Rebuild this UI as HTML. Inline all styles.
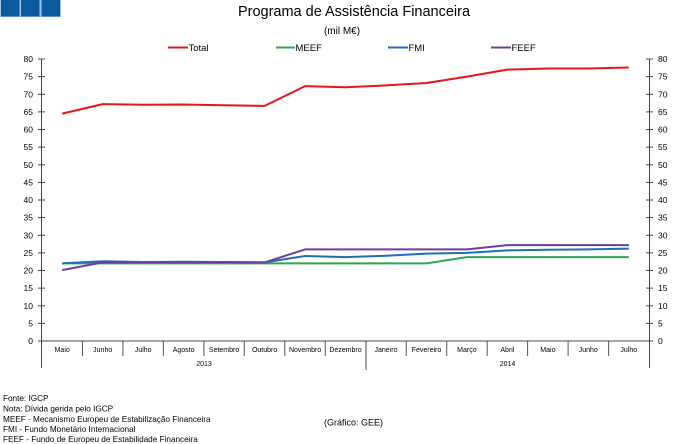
<!DOCTYPE html>
<html><head><meta charset="utf-8"><style>
html,body{margin:0;padding:0;background:#fff;}
svg{display:block;font-family:"Liberation Sans",Arial,sans-serif;}
</style></head><body>
<svg width="683" height="444" viewBox="0 0 683 444" xmlns="http://www.w3.org/2000/svg">
<rect x="0" y="0" width="683" height="444" fill="#fff"/>
<!-- logo -->
<rect x="0" y="0" width="61" height="17" fill="#9cc7ea"/>
<rect x="1" y="0" width="18.5" height="16.5" fill="#0b5a9f"/>
<rect x="21" y="0" width="18.5" height="16.5" fill="#0b5a9f"/>
<rect x="41.5" y="0" width="18.5" height="16.5" fill="#0b5a9f"/>
<!-- title -->
<text x="354" y="16" font-size="14.5" text-anchor="middle" fill="#000">Programa de Assistência Financeira</text>
<text x="342" y="34" font-size="10" text-anchor="middle" fill="#000">(mil M€)</text>
<!-- legend -->
<g font-size="9.5" fill="#000">
<line x1="168" y1="47.5" x2="188" y2="47.5" stroke="#e2161b" stroke-width="2"/>
<text x="188.5" y="51">Total</text>
<line x1="276" y1="47.5" x2="295" y2="47.5" stroke="#2ea84f" stroke-width="2"/>
<text x="295.5" y="51">MEEF</text>
<line x1="388" y1="47.5" x2="408" y2="47.5" stroke="#1f6db5" stroke-width="2"/>
<text x="408.5" y="51">FMI</text>
<line x1="491" y1="47.5" x2="511" y2="47.5" stroke="#6f3fa0" stroke-width="2"/>
<text x="511.5" y="51">FEEF</text>
</g>
<!-- axes -->
<g stroke="#444" stroke-width="1">
<line x1="41.5" y1="58.5" x2="41.5" y2="368"/>
<line x1="649.5" y1="58.5" x2="649.5" y2="368"/>
<line x1="41.5" y1="341" x2="649.5" y2="341"/>
<line x1="366" y1="341" x2="366" y2="370"/>
</g>
<g stroke="#444" stroke-width="1" id="ticks">
<line x1="38" y1="59" x2="45" y2="59"/><line x1="646" y1="59" x2="653" y2="59"/>
<line x1="38" y1="76.6" x2="45" y2="76.6"/><line x1="646" y1="76.6" x2="653" y2="76.6"/>
<line x1="38" y1="94.3" x2="45" y2="94.3"/><line x1="646" y1="94.3" x2="653" y2="94.3"/>
<line x1="38" y1="111.9" x2="45" y2="111.9"/><line x1="646" y1="111.9" x2="653" y2="111.9"/>
<line x1="38" y1="129.5" x2="45" y2="129.5"/><line x1="646" y1="129.5" x2="653" y2="129.5"/>
<line x1="38" y1="147.1" x2="45" y2="147.1"/><line x1="646" y1="147.1" x2="653" y2="147.1"/>
<line x1="38" y1="164.8" x2="45" y2="164.8"/><line x1="646" y1="164.8" x2="653" y2="164.8"/>
<line x1="38" y1="182.4" x2="45" y2="182.4"/><line x1="646" y1="182.4" x2="653" y2="182.4"/>
<line x1="38" y1="200" x2="45" y2="200"/><line x1="646" y1="200" x2="653" y2="200"/>
<line x1="38" y1="217.6" x2="45" y2="217.6"/><line x1="646" y1="217.6" x2="653" y2="217.6"/>
<line x1="38" y1="235.3" x2="45" y2="235.3"/><line x1="646" y1="235.3" x2="653" y2="235.3"/>
<line x1="38" y1="252.9" x2="45" y2="252.9"/><line x1="646" y1="252.9" x2="653" y2="252.9"/>
<line x1="38" y1="270.5" x2="45" y2="270.5"/><line x1="646" y1="270.5" x2="653" y2="270.5"/>
<line x1="38" y1="288.1" x2="45" y2="288.1"/><line x1="646" y1="288.1" x2="653" y2="288.1"/>
<line x1="38" y1="305.8" x2="45" y2="305.8"/><line x1="646" y1="305.8" x2="653" y2="305.8"/>
<line x1="38" y1="323.4" x2="45" y2="323.4"/><line x1="646" y1="323.4" x2="653" y2="323.4"/>
<line x1="38" y1="341" x2="45" y2="341"/><line x1="646" y1="341" x2="653" y2="341"/>
</g>
<g font-size="8.5" fill="#000" text-anchor="end">
<text x="33" y="62">80</text><text x="33" y="79.6">75</text><text x="33" y="97.3">70</text><text x="33" y="114.9">65</text>
<text x="33" y="132.5">60</text><text x="33" y="150.1">55</text><text x="33" y="167.8">50</text><text x="33" y="185.4">45</text>
<text x="33" y="203">40</text><text x="33" y="220.6">35</text><text x="33" y="238.3">30</text><text x="33" y="255.9">25</text>
<text x="33" y="273.5">20</text><text x="33" y="291.1">15</text><text x="33" y="308.8">10</text><text x="33" y="326.4">5</text>
<text x="33" y="344">0</text>
</g>
<g font-size="8.5" fill="#000" text-anchor="start">
<text x="658" y="62">80</text><text x="658" y="79.6">75</text><text x="658" y="97.3">70</text><text x="658" y="114.9">65</text>
<text x="658" y="132.5">60</text><text x="658" y="150.1">55</text><text x="658" y="167.8">50</text><text x="658" y="185.4">45</text>
<text x="658" y="203">40</text><text x="658" y="220.6">35</text><text x="658" y="238.3">30</text><text x="658" y="255.9">25</text>
<text x="658" y="273.5">20</text><text x="658" y="291.1">15</text><text x="658" y="308.8">10</text><text x="658" y="326.4">5</text>
<text x="658" y="344">0</text>
</g>
<!-- category separators -->
<g stroke="#555" stroke-width="1">
<line x1="82.5" y1="341" x2="82.5" y2="356"/>
<line x1="122.9" y1="341" x2="122.9" y2="356"/>
<line x1="163.4" y1="341" x2="163.4" y2="356"/>
<line x1="203.9" y1="341" x2="203.9" y2="356"/>
<line x1="244.3" y1="341" x2="244.3" y2="356"/>
<line x1="284.8" y1="341" x2="284.8" y2="356"/>
<line x1="325.3" y1="341" x2="325.3" y2="356"/>
<line x1="406.2" y1="341" x2="406.2" y2="356"/>
<line x1="446.7" y1="341" x2="446.7" y2="356"/>
<line x1="487.2" y1="341" x2="487.2" y2="356"/>
<line x1="527.6" y1="341" x2="527.6" y2="356"/>
<line x1="568.1" y1="341" x2="568.1" y2="356"/>
<line x1="608.6" y1="341" x2="608.6" y2="356"/>
</g>
<g font-size="7" fill="#000" text-anchor="middle">
<text x="62.2" y="352">Maio</text>
<text x="102.7" y="352">Junho</text>
<text x="143.2" y="352">Julho</text>
<text x="183.6" y="352">Agosto</text>
<text x="224.1" y="352">Setembro</text>
<text x="264.6" y="352">Outubro</text>
<text x="305.1" y="352">Novembro</text>
<text x="345.5" y="352">Dezembro</text>
<text x="386" y="352">Janeiro</text>
<text x="426.5" y="352">Fevereiro</text>
<text x="466.9" y="352">Março</text>
<text x="507.4" y="352">Abril</text>
<text x="547.9" y="352">Maio</text>
<text x="588.3" y="352">Junho</text>
<text x="628.8" y="352">Julho</text>
<text x="204" y="366">2013</text>
<text x="507.5" y="366">2014</text>
</g>
<!-- series -->
<g fill="none" stroke-width="2" stroke-linejoin="round">
<polyline stroke="#e2161b" points="62.2,113.6 102.7,104.1 143.2,104.8 183.6,104.5 224.1,105.2 264.6,105.9 305.1,86.1 345.5,87.2 386,85.4 426.5,83 466.9,76.6 507.4,69.6 547.9,68.5 588.3,68.5 628.8,67.5"/>
<polyline stroke="#2ea84f" points="62.2,263.4 102.7,263.4 143.2,263.4 183.6,263.4 224.1,263.4 264.6,263.4 305.1,263.4 345.5,263.4 386,263.4 426.5,263.4 466.9,257.1 507.4,257.1 547.9,257.1 588.3,257.1 628.8,257.1"/>
<polyline stroke="#1f6db5" points="62.2,263.4 102.7,261.3 143.2,262 183.6,261.7 224.1,262 264.6,262.4 305.1,256 345.5,257.1 386,255.7 426.5,253.6 466.9,252.9 507.4,250.4 547.9,249.7 588.3,249.4 628.8,248.6"/>
<polyline stroke="#6f3fa0" points="62.2,270.1 102.7,262.4 143.2,262.4 183.6,262.4 224.1,262.4 264.6,262.4 305.1,249.4 345.5,249.4 386,249.4 426.5,249.4 466.9,249.4 507.4,245.1 547.9,245.1 588.3,245.1 628.8,245.1"/>
</g>
<!-- notes -->
<g font-size="8.2" fill="#000">
<text x="3" y="401">Fonte: IGCP</text>
<text x="3" y="411.5">Nota: Dívida gerida pelo IGCP</text>
<text x="3" y="422">MEEF - Mecanismo Europeu de Estabilização Financeira</text>
<text x="3" y="432">FMI - Fundo Monetário Internacional</text>
<text x="3" y="442">FEEF - Fundo de Europeu de Estabilidade Financeira</text>
</g>
<text x="324" y="425.5" font-size="9" fill="#000">(Gráfico: GEE)</text>
</svg>
</body></html>
